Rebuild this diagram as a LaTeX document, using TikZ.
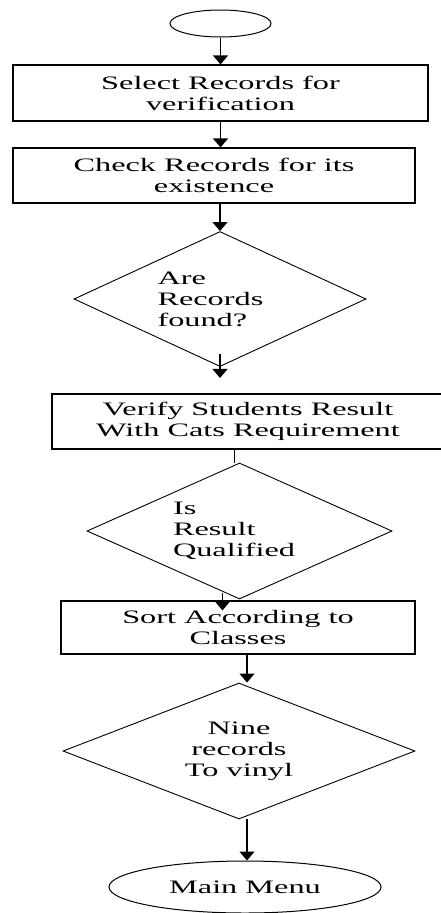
\documentclass[tikz,border=0pt]{standalone}
\usepackage{fontspec}
\setmainfont[FakeStretch=1.7]{Liberation Serif}
\usetikzlibrary{shapes.geometric, arrows.meta, positioning}

\tikzset{
	chartfont/.style={font=\fontsize{19pt}{21pt}\selectfont, inner sep=0pt},
	procbox/.style={chartfont, draw, rectangle, line width=1.2pt, align=center},
	decision/.style={chartfont, draw, diamond, shape aspect=2.2, line width=0.9pt},
	terminal/.style={chartfont, draw, ellipse, line width=1pt},
	flow/.style={line width=1.4pt, -{Triangle[width=15pt,length=9pt]}}
}

\begin{document}
\begin{tikzpicture}[x=1pt,y=1pt]
	\useasboundingbox (0,0) rectangle (440,-913);
	\node [terminal, minimum width=101pt, minimum height=27pt] (start) at (220.5,-23.5) {};
	\node [procbox, minimum width=415pt, minimum height=56pt] (select) at (220.5,-93) {Select Records for\\verification};
	\node [procbox, minimum width=402pt, minimum height=55pt] (check) at (214,-175.5) {Check Records for its\\existence};
	\node [decision, minimum width=292pt, minimum height=135pt, text width=125pt, align=left] (found) at (220,-299) {Are\\Records\\found?};
	\node [procbox, minimum width=392pt, minimum height=55pt] (verify) at (248,-421.5) {Verify Students Result\\With Cats Requirement};
	\node [decision, minimum width=305pt, minimum height=136pt, text width=133pt, align=left] (qualified) at (239.5,-531) {Is\\Result\\Qualified};
	\node [procbox, minimum width=354pt, minimum height=53pt] (sort) at (238,-627.5) {Sort According to\\Classes};
	\node [decision, minimum width=352pt, minimum height=136pt, align=center] (nine) at (239,-751) {Nine\\records\\To vinyl};
	\node [terminal, minimum width=272pt, minimum height=52pt] (menu) at (245,-887) {Main Menu};

	\coordinate [above=13pt of found.south] (foundout);
	\coordinate [below=11pt of found.south] (foundtip);
	\coordinate [left=5pt of qualified.north] (qualtop);
	\coordinate [left=17pt of qualified.south] (qualout);
	\coordinate [below=10pt of sort.north -| qualout] (sorttip);
	\coordinate [right=9pt of sort.south] (sortout);
	\coordinate [right=8pt of nine.south] (nineout);

	\draw [flow] (start.south) -- (select.north);
	\draw [flow] (select.south) -- (select.south |- check.north);
	\draw [flow] (found.north |- check.south) -- (found.north);
	\draw [flow] (foundout) -- (foundtip);
	\draw [line width=1.4pt] (qualtop |- verify.south) -- (qualtop);
	\draw [flow] ([yshift=6pt]qualout) -- (sorttip);
	\draw [flow] (sortout) -- (sortout |- nine.north);
	\draw [flow] (nineout) -- (nineout |- menu.north);
\end{tikzpicture}
\end{document}
